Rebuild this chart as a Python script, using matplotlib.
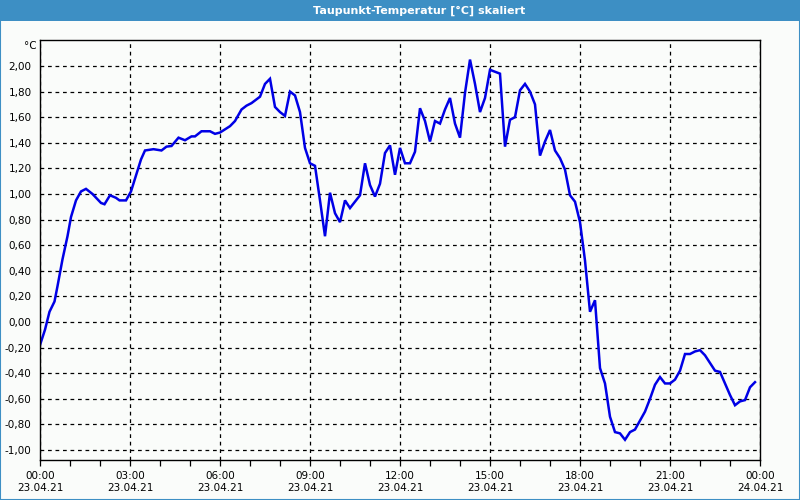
import numpy as np
import matplotlib
matplotlib.use('Agg')
import matplotlib.pyplot as plt
from matplotlib.patches import Rectangle
from matplotlib.ticker import MultipleLocator, FixedLocator, FuncFormatter

# Data: minutes after 23.04.21 00:00, dew point in degC
minutes = [0, 10, 19, 29, 35, 45, 55, 62, 72, 82, 92, 105, 122, 129, 140, 152, 159, 172,
           182, 202, 210, 227, 243, 253, 263, 277, 290, 303, 310, 323, 340, 350, 360, 380,
           390, 403, 413, 423, 440, 450, 460, 470, 480, 490, 500, 510, 520, 530, 540, 550,
           560, 570, 580, 590, 600, 610, 620, 640, 650, 660, 670, 680, 690, 700, 710, 720,
           730, 740, 750, 760, 770, 780, 790, 800, 810, 820, 830, 840, 850, 860, 870, 880,
           890, 900, 920, 930, 940, 950, 960, 970, 980, 990, 1000, 1010, 1020, 1030, 1040,
           1050, 1060, 1070, 1080, 1090, 1100, 1110, 1120, 1130, 1140, 1150, 1160, 1170,
           1180, 1190, 1200, 1210, 1220, 1230, 1240, 1250, 1260, 1270, 1280, 1290, 1300,
           1310, 1320, 1330, 1340, 1350, 1360, 1370, 1380, 1390, 1400, 1410, 1420, 1430]
values = [-0.18, -0.06, 0.08, 0.16, 0.28, 0.49, 0.67, 0.82, 0.95, 1.02, 1.04, 1.00, 0.93, 0.92,
          0.99, 0.97, 0.95, 0.95, 1.02, 1.27, 1.34, 1.35, 1.34, 1.37, 1.375, 1.44, 1.42, 1.45,
          1.45, 1.49, 1.49, 1.47, 1.48, 1.53, 1.57, 1.66, 1.69, 1.71, 1.76, 1.86, 1.90, 1.68,
          1.64, 1.61, 1.80, 1.77, 1.64, 1.36, 1.24, 1.22, 0.95, 0.67, 1.01, 0.85, 0.78, 0.95,
          0.89, 0.99, 1.24, 1.07, 0.98, 1.08, 1.32, 1.38, 1.15, 1.36, 1.24, 1.24, 1.33, 1.67,
          1.57, 1.41, 1.57, 1.55, 1.66, 1.75, 1.55, 1.44, 1.79, 2.05, 1.86, 1.64, 1.75, 1.97,
          1.94, 1.37, 1.58, 1.60, 1.81, 1.86, 1.80, 1.70, 1.30, 1.41, 1.50, 1.34, 1.28, 1.19,
          0.99, 0.94, 0.78, 0.48, 0.08, 0.17, -0.36, -0.48, -0.74, -0.86, -0.87, -0.92, -0.86,
          -0.84, -0.77, -0.70, -0.60, -0.49, -0.43, -0.48, -0.48, -0.45, -0.38, -0.25, -0.25,
          -0.23, -0.22, -0.26, -0.32, -0.38, -0.39, -0.48, -0.57, -0.65, -0.62, -0.61, -0.51,
          -0.47]
yticks = [-1.0, -0.8, -0.6, -0.4, -0.2, 0.0, 0.2, 0.4, 0.6, 0.8, 1.0, 1.2, 1.4, 1.6, 1.8, 2.0]
xtick_labels = ['00:00\n23.04.21', '03:00\n23.04.21', '06:00\n23.04.21', '09:00\n23.04.21',
                '12:00\n23.04.21', '15:00\n23.04.21', '18:00\n23.04.21', '21:00\n23.04.21',
                '00:00\n24.04.21']

hours = np.array(minutes) / 60.0

bg = '#fafcfa'
fig = plt.figure(figsize=(8, 5), dpi=100, facecolor=bg)
ax = fig.add_axes([0.05, 0.08, 0.90, 0.84])
ax.set_facecolor(bg)

ax.plot(hours, values, color='#0000e6', linewidth=1.8, solid_joinstyle='miter')

ax.set_xlim(0, 24)
ax.set_ylim(-1.078, 2.203)
ax.set_xticks(np.arange(0, 25, 3))
ax.set_xticklabels(xtick_labels)
ax.xaxis.set_minor_locator(MultipleLocator(1))
ax.yaxis.set_major_locator(FixedLocator(yticks))
ax.yaxis.set_major_formatter(FuncFormatter(lambda v, p: ('%.2f' % v).replace('.', ',').replace('-0,00', '0,00')))

ax.grid(True, color='black', linestyle=(0, (3, 3)), linewidth=0.9)
ax.tick_params(axis='y', length=0, pad=6, labelsize=7.5, colors='black')
ax.tick_params(axis='x', which='both', direction='out', length=4, width=0.9,
               pad=4, labelsize=7.5)
for s in ax.spines.values():
    s.set_color('black')
    s.set_linewidth(1)

ax.text(-0.004, 1 - 6 / 420, '°C', transform=ax.transAxes, ha='right', va='center', fontsize=7.5)

# title bar and frame
fig.patches.append(Rectangle((0, 0.958), 1, 0.042, transform=fig.transFigure,
                             facecolor='#3d8fc4', edgecolor='none', zorder=0))
fig.patches.append(Rectangle((0.0006, 0.001), 0.9988, 0.998, transform=fig.transFigure,
                             facecolor='none', edgecolor='#3d8fc4', linewidth=1.5, zorder=5))
fig.text(0.524, 0.979, 'Taupunkt-Temperatur [°C] skaliert', color='white',
         fontsize=8, fontweight='bold', ha='center', va='center')

fig.savefig('out.png', dpi=100, facecolor=bg)
